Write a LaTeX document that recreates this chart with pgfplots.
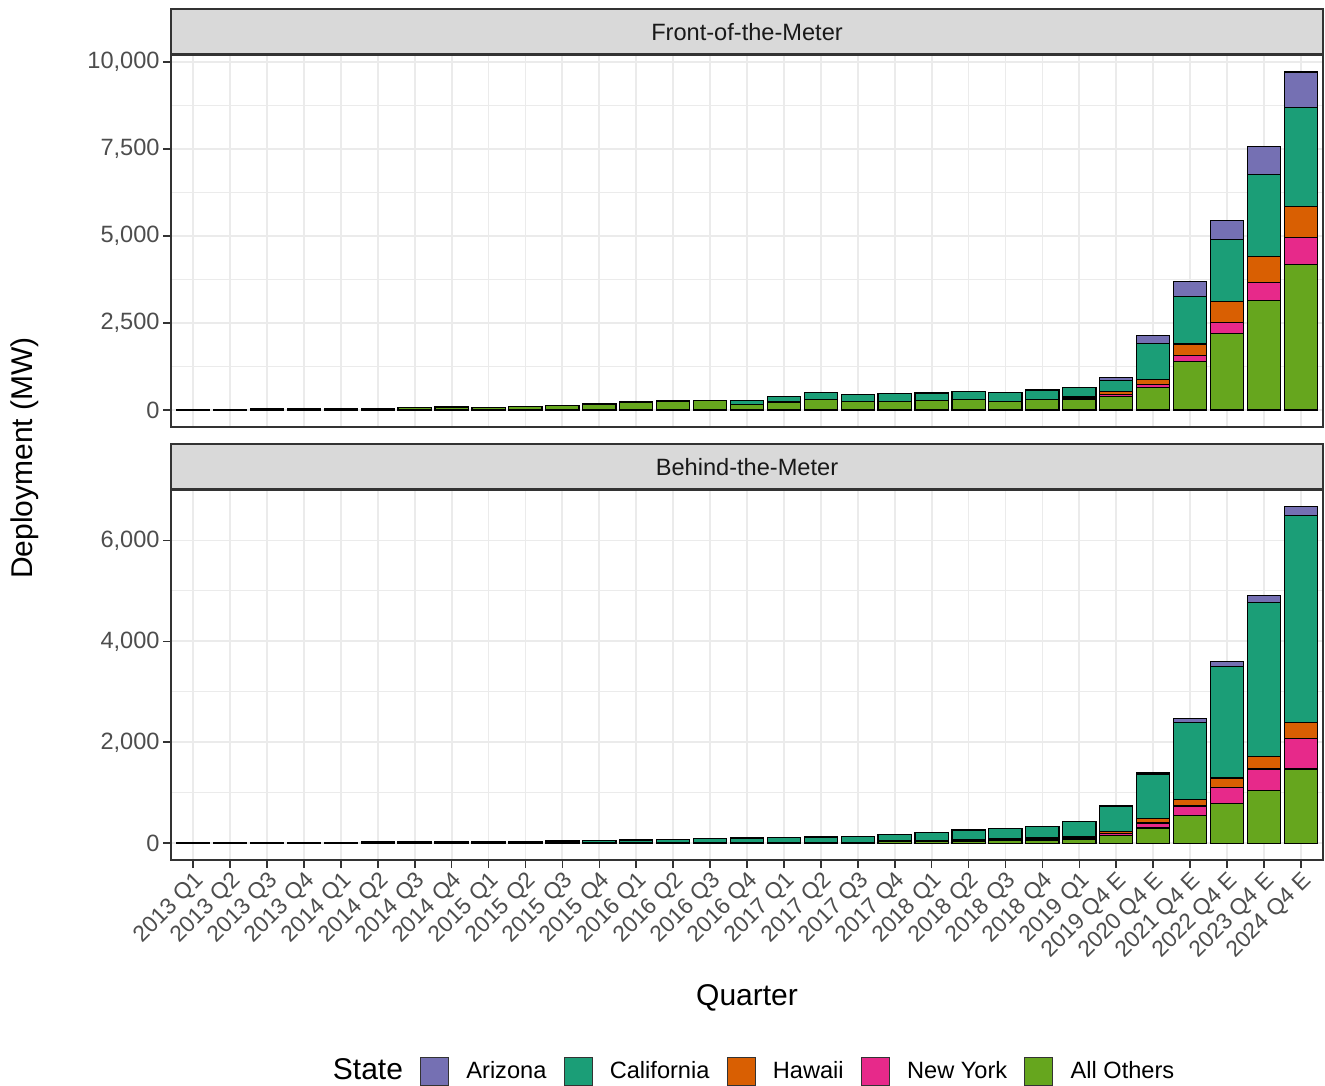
\documentclass[border=0pt]{standalone}
\usepackage{pgfplots}
\pgfplotsset{compat=1.18}
\usepackage{pgfplotstable}
\usepackage{fontspec}
\setmainfont{Liberation Sans}

\definecolor{cAZ}{HTML}{7570B3}
\definecolor{cCA}{HTML}{1B9E77}
\definecolor{cHI}{HTML}{D95F02}
\definecolor{cNY}{HTML}{E7298A}
\definecolor{cOT}{HTML}{66A61E}
\definecolor{gridgray}{HTML}{EBEBEB}
\definecolor{stripgray}{HTML}{D9D9D9}
\definecolor{bordergray}{HTML}{333333}
\definecolor{tickgray}{HTML}{4D4D4D}

% front-of-the-meter, MW
\pgfplotstableread{
x others ny hi ca az
0 8 0 0 0 0
1 12 0 0 0 0
2 25 0 0 5 0
3 30 0 0 5 0
4 35 0 0 5 0
5 40 0 0 5 0
6 70 0 0 15 0
7 75 0 0 15 0
8 70 0 0 15 0
9 95 0 0 15 0
10 125 0 0 15 0
11 175 0 0 15 0
12 230 0 0 20 0
13 250 0 0 20 0
14 265 0 0 20 0
15 165 0 0 115 0
16 230 0 0 164 0
17 307 0 0 210 0
18 250 0 0 192 0
19 250 0 0 220 0
20 287 0 0 203 0
21 307 0 0 221 0
22 250 0 0 250 0
23 307 0 0 268 0
24 307 30 40 275 0
25 390 60 80 310 100
26 652 95 124 1045 220
27 1388 173 336 1370 420
28 2213 307 603 1791 546
29 3152 517 747 2346 805
30 4195 756 902 2845 1023
}\ftm

% behind-the-meter, MW
\pgfplotstableread{
x others ny hi ca az
0 2 0 0 8 0
1 3 0 0 10 0
2 3 0 0 12 0
3 4 0 0 14 0
4 4 0 0 16 0
5 5 0 0 18 0
6 5 0 0 20 0
7 6 0 0 22 0
8 6 0 0 26 0
9 7 0 0 30 0
10 8 0 0 35 0
11 10 0 0 40 0
12 12 0 0 53 0
13 14 0 0 64 0
14 15 0 0 76 0
15 16 0 0 88 0
16 18 0 0 92 0
17 20 0 0 104 0
18 22 0 0 115 0
19 30 5 10 131 0
20 40 8 12 156 0
21 45 10 15 191 0
22 52 12 18 212 0
23 65 20 25 229 0
24 85 25 27 287 0
25 150 40 50 495 5
26 301 98 91 883 19
27 543 196 130 1523 79
28 791 307 196 2209 98
29 1046 424 249 3059 124
30 1470 608 308 4104 177
}\btm

\pgfplotsset{
  panel/.style={
    set layers,
    scale only axis, width=576pt,
    xmin=-0.6, xmax=30.6,
    ybar stacked, bar width=0.9,
    xtick={0,...,30},
    xtick pos=bottom, ytick pos=left,
    grid=both,
    major grid style={gridgray, line width=0.9pt},
    minor grid style={gridgray, line width=0.45pt},
    axis line style={bordergray, line width=0.8pt},
    tick style={bordergray, line width=0.8pt},
    tick align=outside,
    major tick length=4pt,
    minor tick length=0pt,
    scaled y ticks=false,
    ticklabel style={font=\fontsize{11.8}{13}\selectfont, text=tickgray},
    yticklabel style={inner sep=1.5pt, /pgf/number format/1000 sep={,},
      /pgf/number format/assume math mode=true},
    every axis title/.style={at={(0.5,1)}, anchor=south, fill=stripgray,
      draw=bordergray, line width=0.8pt, minimum width=576pt,
      minimum height=22.5pt, inner sep=0pt, text=black!90,
      font=\fontsize{11.8}{13}\selectfont},
    every axis plot/.append style={draw=black, line width=0.6pt},
  },
}

\begin{document}
\begin{tikzpicture}
\begin{axis}[panel, name=top, at={(0,0)}, anchor=north west,
  height=186pt, ymin=-486, ymax=10207,
  ytick={0,2500,5000,7500,10000},
  minor ytick={1250,3750,6250,8750},
  xticklabels={}, xtick style={draw=none},
  title={Front-of-the-Meter}]
\addplot[fill=cOT] table[x=x, y=others] {\ftm};
\addplot[fill=cNY] table[x=x, y=ny] {\ftm};
\addplot[fill=cHI] table[x=x, y=hi] {\ftm};
\addplot[fill=cCA] table[x=x, y=ca] {\ftm};
\addplot[fill=cAZ] table[x=x, y=az] {\ftm};
\end{axis}

\begin{axis}[panel, name=bot, at={(top.south west)}, anchor=north west,
  yshift=-31.5pt,
  height=185pt, ymin=-333, ymax=7000,
  ytick={0,2000,4000,6000},
  minor ytick={1000,3000,5000},
  xticklabels={2013 Q1,2013 Q2,2013 Q3,2013 Q4,2014 Q1,2014 Q2,2014 Q3,2014 Q4,
    2015 Q1,2015 Q2,2015 Q3,2015 Q4,2016 Q1,2016 Q2,2016 Q3,2016 Q4,
    2017 Q1,2017 Q2,2017 Q3,2017 Q4,2018 Q1,2018 Q2,2018 Q3,2018 Q4,
    2019 Q1,2019 Q4 E,2020 Q4 E,2021 Q4 E,2022 Q4 E,2023 Q4 E,2024 Q4 E},
  xticklabel style={rotate=45, anchor=north east, inner sep=0.5pt,
    font=\fontsize{11.4}{12}\selectfont},
  title={Behind-the-Meter},
  legend style={at={(0.5,0)}, anchor=center, yshift=-105.5pt, draw=none, fill=none,
    legend columns=-1, font=\fontsize{11.8}{13}\selectfont,
    /tikz/column sep=6.6pt},
  legend cell align=left]
\addlegendimage{empty legend}
\addlegendentry{\fontsize{15}{17}\selectfont State}
\addlegendimage{legend image code/.code={\draw[fill=cAZ, draw=black!80, line width=0.5pt] (0pt,-7pt) rectangle (14pt,7pt);}}
\addlegendentry{Arizona}
\addlegendimage{legend image code/.code={\draw[fill=cCA, draw=black!80, line width=0.5pt] (0pt,-7pt) rectangle (14pt,7pt);}}
\addlegendentry{California}
\addlegendimage{legend image code/.code={\draw[fill=cHI, draw=black!80, line width=0.5pt] (0pt,-7pt) rectangle (14pt,7pt);}}
\addlegendentry{Hawaii}
\addlegendimage{legend image code/.code={\draw[fill=cNY, draw=black!80, line width=0.5pt] (0pt,-7pt) rectangle (14pt,7pt);}}
\addlegendentry{New York}
\addlegendimage{legend image code/.code={\draw[fill=cOT, draw=black!80, line width=0.5pt] (0pt,-7pt) rectangle (14pt,7pt);}}
\addlegendentry{All Others}
\addplot[fill=cOT, forget plot] table[x=x, y=others] {\btm};
\addplot[fill=cNY, forget plot] table[x=x, y=ny] {\btm};
\addplot[fill=cHI, forget plot] table[x=x, y=hi] {\btm};
\addplot[fill=cCA, forget plot] table[x=x, y=ca] {\btm};
\addplot[fill=cAZ, forget plot] table[x=x, y=az] {\btm};
\end{axis}

\node[rotate=90, font=\fontsize{15}{17}\selectfont] at (-73pt,-201.5pt) {Deployment (MW)};
\node[font=\fontsize{15}{17}\selectfont] at (288pt,-471.5pt) {Quarter};
\path (-85.5pt,27.5pt) rectangle (577pt,-515pt);
\end{tikzpicture}
\end{document}
